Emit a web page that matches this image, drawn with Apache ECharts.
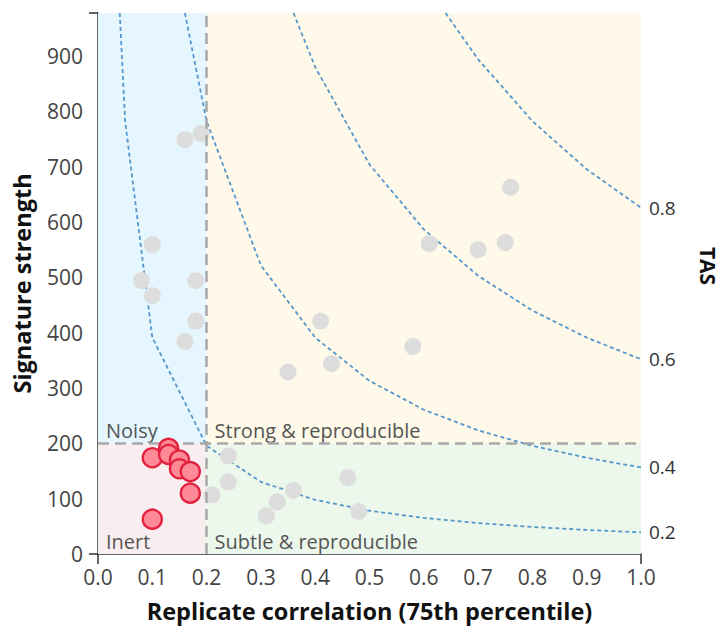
<!DOCTYPE html>
<html>
<head>
<meta charset="utf-8">
<script src="https://cdn.jsdelivr.net/npm/echarts@6/dist/echarts.min.js"></script>
<style>
html,body{margin:0;padding:0;background:#fff;}
#chart{width:721px;height:628px;}
</style>
</head>
<body>
<div id="chart"></div>
<script>
// ---- data ----
var xTickLabels = ['0.0','0.1','0.2','0.3','0.4','0.5','0.6','0.7','0.8','0.9','1.0'];
var yTickLabels = [0,100,200,300,400,500,600,700,800,900];
var xThreshold = 0.2;
var yThreshold = 200;
var yMax = 978;

var grayX = [0.16,0.19,0.10,0.08,0.10,0.18,0.18,0.16,0.41,0.43,0.35,0.58,0.76,0.61,0.70,0.75,0.24,0.24,0.21,0.36,0.33,0.31,0.46,0.48];
var grayY = [749,760,559,494,467,494,421,384,421,344,329,375,663,561,550,563,177,130,107,115,94,69,138,77];

var redX = [0.10,0.13,0.13,0.15,0.15,0.17,0.17,0.10];
var redY = [174,191,180,170,154,149,110,63];

var tasNames = ['0.2','0.4','0.6','0.8'];
var tas02X = [0.04,0.05,0.1,0.2,0.3,0.4,0.5,0.6,0.7,0.8,0.9,1.0];
var tas02Y = [978,782.4,391.2,195.6,130.4,97.8,78.2,65.2,55.9,48.9,43.5,39.1];
var tas04X = [0.16,0.2,0.3,0.4,0.5,0.6,0.7,0.8,0.9,1.0];
var tas04Y = [978,782.4,521.6,391.2,313.0,260.8,223.5,195.6,173.9,156.5];
var tas06X = [0.36,0.4,0.5,0.6,0.7,0.8,0.9,1.0];
var tas06Y = [978,880.2,704.2,586.8,503.0,440.1,391.2,352.1];
var tas08X = [0.64,0.7,0.8,0.9,1.0];
var tas08Y = [978,894.2,782.4,695.5,625.9];

var quadrantNames = ['Noisy','Strong & reproducible','Inert','Subtle & reproducible'];

// ---- build ----
function zip(xs, ys){ return xs.map(function(x,i){ return [x, ys[i]]; }); }
var FONT = '"Open Sans", "Noto Sans", sans-serif';
var curveColor = '#5696cd';

function curve(name, xs, ys){
  return {
    type:'line', name:'TAS '+name, data: zip(xs, ys), symbol:'none', silent:true,
    lineStyle:{color:curveColor, width:1.8, type:[4,3]},
    z:3,
    endLabel:{show:true, formatter:name, distance:8, color:'#333', fontSize:19, fontFamily:FONT}
  };
}

function qLabel(text){
  return {show:true, position:'insideBottomLeft', color:'#555', fontSize:20, fontFamily:FONT, distance:3, padding:[0,0,0,5], formatter:text};
}

var chart = echarts.init(document.getElementById('chart'), null, {renderer:'svg'});
var option = {
  animation:false,
  grid:{left:98, right:80, top:13, bottom:73},
  xAxis:{
    type:'value', min:0, max:1, interval:0.1,
    axisLine:{show:true, lineStyle:{color:'#333', width:1.5}},
    axisTick:{show:false}, splitLine:{show:false},
    axisLabel:{color:'#444', fontSize:21, fontFamily:FONT, margin:12,
      formatter:function(v){ var i=Math.round(v*10); return xTickLabels[i]; }},
    name:'Replicate correlation (75th percentile)', nameLocation:'middle', nameGap:45,
    nameTextStyle:{color:'#111', fontSize:23.5, fontWeight:'bold', fontFamily:FONT}
  },
  yAxis:{
    type:'value', min:0, max:yMax, interval:100,
    axisLine:{show:true, lineStyle:{color:'#333', width:1.5}},
    axisTick:{show:false}, splitLine:{show:false},
    axisLabel:{color:'#444', fontSize:21, fontFamily:FONT, margin:15, showMaxLabel:false,
      formatter:function(v){ return yTickLabels.indexOf(v) >= 0 ? String(v) : ''; }},
    name:'Signature strength', nameLocation:'middle', nameGap:64,
    nameTextStyle:{color:'#111', fontSize:23.5, fontWeight:'bold', fontFamily:FONT}
  },
  series:[
    {
      type:'line', name:'bg', data:[[0,0],[1,0]], silent:true, z:1, symbol:'none',
      lineStyle:{opacity:0},
      markArea:{
        silent:true,
        data:[
          [{xAxis:0, yAxis:yThreshold, itemStyle:{color:'#e5f6fe'}, label:qLabel(quadrantNames[0])}, {xAxis:xThreshold, yAxis:yMax}],
          [{xAxis:xThreshold, yAxis:yThreshold, itemStyle:{color:'#fef9e8'}, label:qLabel(quadrantNames[1])}, {xAxis:1, yAxis:yMax}],
          [{xAxis:0, yAxis:0, itemStyle:{color:'#f8eeef'}, label:qLabel(quadrantNames[2])}, {xAxis:xThreshold, yAxis:yThreshold}],
          [{xAxis:xThreshold, yAxis:0, itemStyle:{color:'#ecf8eb'}, label:qLabel(quadrantNames[3])}, {xAxis:1, yAxis:yThreshold}]
        ]
      },
      markLine:{
        silent:true, symbol:'none', label:{show:false},
        lineStyle:{color:'#a8a8a8', width:2.5, type:[11,6]},
        data:[
          [{coord:[xThreshold,0]},{coord:[xThreshold,yMax]}],
          [{coord:[0,yThreshold]},{coord:[1,yThreshold]}]
        ]
      }
    },
    curve(tasNames[0], tas02X, tas02Y),
    curve(tasNames[1], tas04X, tas04Y),
    curve(tasNames[2], tas06X, tas06Y),
    curve(tasNames[3], tas08X, tas08Y),
    {
      type:'scatter', name:'other', data: zip(grayX, grayY), symbolSize:17, z:4,
      itemStyle:{color:'#dddddd', opacity:1}
    },
    {
      type:'scatter', name:'highlight', data: zip(redX, redY), symbolSize:19, z:5,
      itemStyle:{color:'#ff8a97', borderColor:'#e2223f', borderWidth:2.4, opacity:1}
    }
  ]
};
chart.setOption(option);

// outer ticks and right title
var p00 = chart.convertToPixel({gridIndex:0}, [0,0]);
var p10 = chart.convertToPixel({gridIndex:0}, [1,0]);
var p0m = chart.convertToPixel({gridIndex:0}, [0,yMax]);
var tickStyle = {stroke:'#333', lineWidth:1.5};
chart.setOption({
  graphic:[
    {type:'line', shape:{x1:p00[0]-9, y1:p00[1], x2:p00[0], y2:p00[1]}, style:tickStyle, silent:true},
    {type:'line', shape:{x1:p00[0], y1:p00[1], x2:p00[0], y2:p00[1]+10}, style:tickStyle, silent:true},
    {type:'line', shape:{x1:p10[0], y1:p10[1], x2:p10[0], y2:p10[1]+10}, style:tickStyle, silent:true},
    {type:'line', shape:{x1:p0m[0]-9, y1:p0m[1], x2:p0m[0], y2:p0m[1]}, style:tickStyle, silent:true},
    {type:'text', x:708, y:266, rotation:-Math.PI/2, silent:true,
      style:{text:'TAS', fill:'#111', font:'bold 21px "Open Sans", sans-serif', align:'center', verticalAlign:'middle'}}
  ]
});
</script>
</body>
</html>
